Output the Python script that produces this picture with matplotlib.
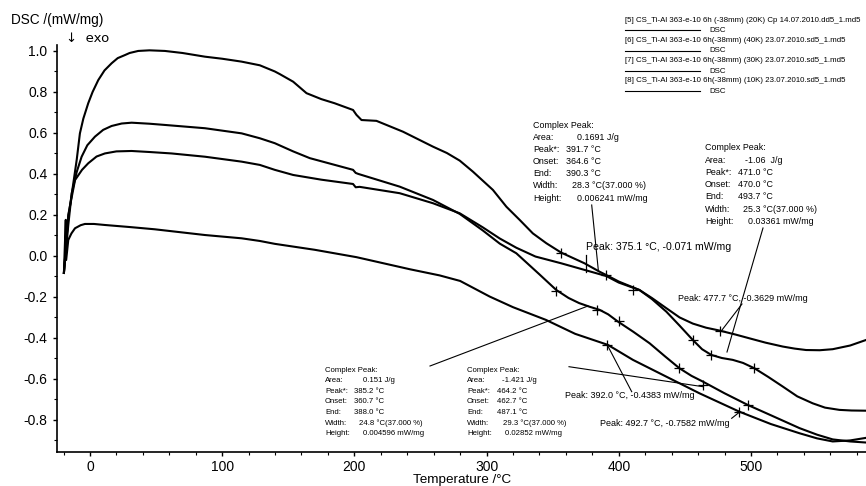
import numpy as np
import matplotlib
matplotlib.use('Agg')
import matplotlib.pyplot as plt
from matplotlib.ticker import MultipleLocator, FuncFormatter

plt.rcParams['font.family'] = ['Liberation Sans', 'DejaVu Sans']

# curve data (Temperature /°C, DSC /(mW/mg))
t_a = [-19.7, -18, -16.4, -13.8, -10, -7.6, -5, -1.3, 2, 6.3, 11, 16.4, 21, 26.5, 30, 36.5,
       45, 56.7, 70, 87, 100, 114.6, 128.5, 139.8, 143.6, 153.7, 163.8, 175, 185, 199, 201.6,
       205.4, 216.7, 236.8, 259.5, 270, 279.7, 289.7, 304.8, 315, 325, 335, 345.2, 356.5, 374.1,
       385.5, 390.5, 400, 415.6, 425, 436, 446, 456, 466, 476.2, 488, 498.9, 511, 524, 533,
       541.7, 552, 561.8, 575, 587]
y_a = [-0.083, 0.06, 0.19, 0.3, 0.47, 0.598, 0.67, 0.745, 0.8, 0.858, 0.905, 0.94, 0.965,
       0.98, 0.99, 1.0, 1.003, 1.0, 0.99, 0.972, 0.962, 0.948, 0.93, 0.9, 0.887, 0.85, 0.794,
       0.765, 0.745, 0.712, 0.688, 0.663, 0.659, 0.606, 0.533, 0.502, 0.465, 0.411, 0.322, 0.24, 0.176,
       0.11, 0.062, 0.016, -0.036, -0.077, -0.093, -0.125, -0.166, -0.205, -0.255, -0.3, -0.33,
       -0.35, -0.364, -0.383, -0.402, -0.423, -0.442, -0.452, -0.459, -0.46, -0.455, -0.437, -0.41]

t_b = [-19.7, -16.4, -13.8, -10, -6.3, -2, 3.8, 10, 16.4, 24, 31.5, 45, 56.7, 87, 114.7,
       128.5, 139.8, 153.7, 166.3, 199, 201, 203, 234.3, 259.5, 279.7, 297, 310, 322.5, 340,
       352.7, 362, 370, 378, 385.5, 392, 399.3, 411, 423.3, 435, 445.9, 455, 463.6, 480,
       497.6, 516, 536.7, 550, 561.8, 575, 586.5]
y_b = [-0.083, 0.15, 0.306, 0.41, 0.484, 0.54, 0.582, 0.615, 0.634, 0.646, 0.65, 0.645, 0.639,
       0.623, 0.598, 0.574, 0.55, 0.51, 0.477, 0.42, 0.405, 0.40, 0.338, 0.273, 0.205, 0.125,
       0.06, 0.013, -0.09, -0.166, -0.205, -0.23, -0.248, -0.263, -0.285, -0.32, -0.37, -0.426,
       -0.49, -0.548, -0.585, -0.613, -0.67, -0.727, -0.78, -0.84, -0.872, -0.895, -0.905, -0.91]

t_c = [-19.7, -16.4, -11.3, -6, -1.3, 5, 11.3, 20, 31.5, 45, 61.7, 87, 114.7, 128.5, 139.8,
       153.7, 175, 199, 201, 204, 234.3, 259.5, 279.7, 297, 310, 322.5, 337, 356.5, 374,
       390.5, 400, 415.6, 425, 436, 446, 456, 463, 470, 478, 486.2, 494, 502.6, 513, 524,
       535, 546.7, 556, 566.9, 576, 587]
y_c = [-0.083, 0.2, 0.37, 0.42, 0.452, 0.485, 0.5, 0.51, 0.512, 0.507, 0.5, 0.484, 0.46, 0.444,
       0.42, 0.395, 0.372, 0.351, 0.335, 0.337, 0.306, 0.257, 0.208, 0.14, 0.085, 0.04, -0.003,
       -0.036, -0.068, -0.098, -0.13, -0.166, -0.21, -0.272, -0.34, -0.41, -0.455, -0.483, -0.498,
       -0.507, -0.522, -0.548, -0.59, -0.637, -0.685, -0.719, -0.74, -0.751, -0.754, -0.755]

t_d = [-19.7, -18.3, -18.0, -16.4, -14, -11.3, -7, -3.8, 3, 11.3, 30, 49, 87, 114.7, 128.5,
       139.8, 170, 201.6, 242, 264.5, 280, 302.3, 320, 344.9, 367, 391.8, 410.7, 436, 461,
       491.3, 515, 536.7, 550, 561.8, 575, 586.5]
y_d = [-0.083, 0.176, -0.02, 0.078, 0.11, 0.135, 0.15, 0.156, 0.156, 0.151, 0.141, 0.13, 0.102,
       0.086, 0.073, 0.059, 0.03, -0.006, -0.065, -0.095, -0.122, -0.198, -0.25, -0.312, -0.38,
       -0.434, -0.507, -0.589, -0.67, -0.76, -0.82, -0.865, -0.89, -0.905, -0.9, -0.888]

# evaluation marks on the curves
mark_t = [356.5, 390.5, 410.7, 352.7, 383.6, 399.8, 391.0, 456.0, 470.0, 502.6, 476.2, 445.9, 463.6, 497.6, 491.3]
mark_y = [0.013, -0.093, -0.166, -0.171, -0.263, -0.317, -0.434, -0.41, -0.483, -0.548, -0.364, -0.548, -0.629, -0.727, -0.76]

legend_names = [
    "[5] CS_Ti-Al 363-e-10 6h (-38mm) (20K) Cp 14.07.2010.dd5_1.md5",
    "[6] CS_Ti-Al 363-e-10 6h(-38mm) (40K) 23.07.2010.sd5_1.md5",
    "[7] CS_Ti-Al 363-e-10 6h(-38mm) (30K) 23.07.2010.sd5_1.md5",
    "[8] CS_Ti-Al 363-e-10 6h(-38mm) (10K) 23.07.2010.sd5_1.md5",
]

W, H = 866, 486


def P(x, y):
    return (x / W, 1 - y / H)


fig = plt.figure(figsize=(8.66, 4.86), dpi=100)
ax = fig.add_axes([57.3 / W, 1 - 451.7 / H, (866 - 57.3) / W, (451.7 - 45) / H])

for t, y in [(t_a, y_a), (t_b, y_b), (t_c, y_c), (t_d, y_d)]:
    ax.plot(t, y, color='black', lw=1.5, solid_joinstyle='round')

ax.plot(mark_t, mark_y, ls='none', marker='+', color='black', ms=7, mew=0.9)
ax.plot([375.1, 375.1], [0.005, -0.078], color='black', lw=0.9)

ax.set_xlim(-24.7, 587)
ax.set_ylim(-0.955, 1.029)
ax.spines['top'].set_visible(False)
ax.spines['right'].set_visible(False)
ax.spines['left'].set_linewidth(1.2)
ax.spines['bottom'].set_linewidth(1.2)
ax.xaxis.set_major_locator(MultipleLocator(100))
ax.xaxis.set_minor_locator(MultipleLocator(20))
ax.yaxis.set_major_locator(MultipleLocator(0.2))
ax.yaxis.set_minor_locator(MultipleLocator(0.1))
ax.yaxis.set_major_formatter(FuncFormatter(lambda v, p: '%.1f' % (0.0 if abs(v) < 1e-9 else v)))
ax.tick_params(which='major', direction='out', length=3, width=1, labelsize=10, pad=3)
ax.tick_params(axis='y', which='major', pad=4)
ax.tick_params(which='minor', direction='out', length=2, width=0.8)
ax.set_xlabel('Temperature /°C', fontsize=9.7, labelpad=0)

fig.text(*P(11, 20), 'DSC /(mW/mg)', fontsize=9.8, va='center')
fig.text(*P(66, 38), '↓  exo', fontsize=9.5, va='center', family=['DejaVu Sans'])

# legend block top right
for i, name in enumerate(legend_names):
    y0 = 20 + i * 20.3
    fig.text(*P(625, y0), name, fontsize=5.7, va='center')
    fig.lines.append(plt.Line2D([625 / W, 700 / W], [1 - (y0 + 10.5) / H] * 2,
                                transform=fig.transFigure, color='black', lw=0.8))
    fig.text(*P(709, y0 + 10.5), 'DSC', fontsize=5.7, va='center')


def peak_box(x, y, step, vx, vals, fs):
    labels = ['Area:', 'Peak*:', 'Onset:', 'End:', 'Width:', 'Height:']
    fig.text(*P(x, y), 'Complex Peak:', fontsize=fs, va='center')
    for k, (lab, val) in enumerate(zip(labels, vals)):
        yy = y + (k + 1) * step
        fig.text(*P(x, yy), lab, fontsize=fs, va='center')
        fig.text(*P(vx[k], yy), val, fontsize=fs, va='center')


peak_box(533, 125, 12.2, [576.7, 565.7, 565.7, 565.7, 571.7, 576.7],
         ['0.1691 J/g', '391.7 °C', '364.6 °C', '390.3 °C', '28.3 °C(37.000 %)', '0.006241 mW/mg'], 6.4)
peak_box(705, 148, 12.2, [745, 737.7, 737.7, 737.7, 742.7, 748.3],
         ['-1.06  J/g', '471.0 °C', '470.0 °C', '493.7 °C', '25.3 °C(37.000 %)', '0.03361 mW/mg'], 6.4)
peak_box(325, 370, 10.6, [363.3, 354.3, 354.3, 354.3, 359, 363.3],
         ['0.151 J/g', '385.2 °C', '360.7 °C', '388.0 °C', '24.8 °C(37.000 %)', '0.004596 mW/mg'], 5.6)
peak_box(467, 370, 10.6, [502.3, 496.7, 496.7, 496.7, 503.3, 505],
         ['-1.421 J/g', '464.2 °C', '462.7 °C', '487.1 °C', '29.3 °C(37.000 %)', '0.02852 mW/mg'], 5.6)

fig.text(*P(586, 246.7), 'Peak: 375.1 °C, -0.071 mW/mg', fontsize=7.6, va='center')
fig.text(*P(678, 298.3), 'Peak: 477.7 °C, -0.3629 mW/mg', fontsize=6.45, va='center')
fig.text(*P(565, 396), 'Peak: 392.0 °C, -0.4383 mW/mg', fontsize=6.5, va='center')
fig.text(*P(600, 423.3), 'Peak: 492.7 °C, -0.7582 mW/mg', fontsize=6.5, va='center')

# leader lines from labels to curves
leaders = [((430, 366), (588, 306)), ((569, 366.7), (703, 386.7)), ((591.7, 205), (598.3, 270)),
           ((763, 228), (727, 352)), ((742, 304), (722, 330)), ((631.7, 391.7), (607.3, 345)),
           ((731.7, 418.3), (740, 411.7))]
for (x1, y1), (x2, y2) in leaders:
    a, b = P(x1, y1), P(x2, y2)
    fig.lines.append(plt.Line2D([a[0], b[0]], [a[1], b[1]], transform=fig.transFigure,
                                color='black', lw=0.8))

fig.savefig('out.png', dpi=100)
